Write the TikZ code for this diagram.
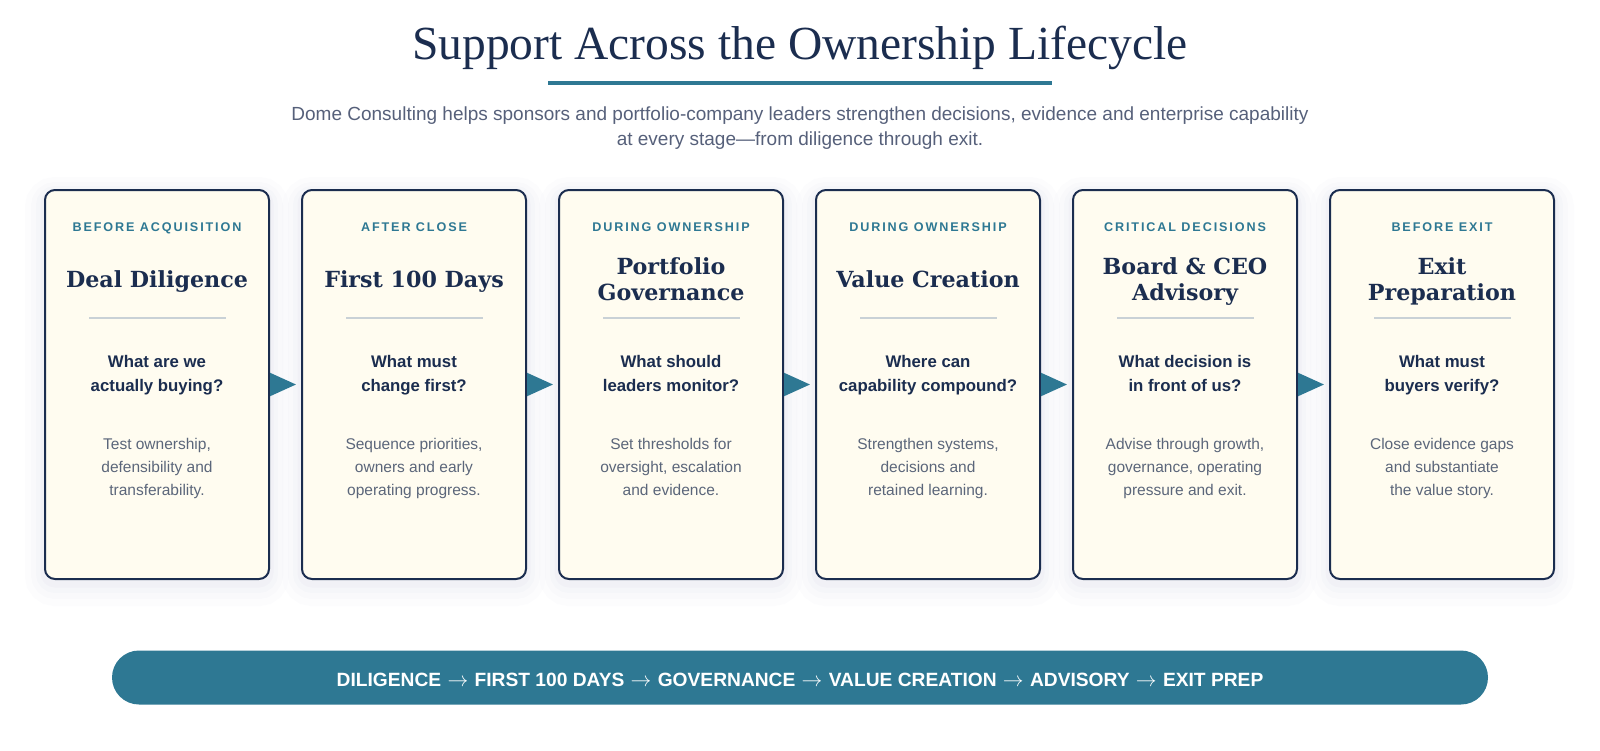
\documentclass[tikz,border=0pt]{standalone}
\usepackage{fontspec}
\setmainfont{Liberation Serif}
\setsansfont{Liberation Sans}
\newfontfamily\tagfont[LetterSpace=15]{Liberation Sans}
\newfontfamily\headfont{DejaVu Serif}
\usetikzlibrary{positioning,arrows.meta}

\definecolor{navy}{HTML}{1B2D4F}
\definecolor{teal}{HTML}{2E7893}
\definecolor{cream}{HTML}{FFFCF0}
\definecolor{rulegray}{HTML}{C9D1D6}
\definecolor{slate}{HTML}{5B667A}
\definecolor{subgray}{HTML}{56607A}
\definecolor{haze}{HTML}{5A5F9A}

\newcommand{\then}{\hspace{1pt}$\rightarrow$\hspace{1pt}}

\tikzset{
  card/.style={draw=navy, line width=2pt, fill=cream, rounded corners=10pt,
    minimum width=224pt, minimum height=389pt, inner sep=0pt,
    preaction={draw=haze, draw opacity=.014, line width=40pt, transform canvas={yshift=-7pt}},
    preaction={draw=haze, draw opacity=.018, line width=28pt, transform canvas={yshift=-6pt}},
    preaction={draw=haze, draw opacity=.022, line width=18pt, transform canvas={yshift=-5pt}},
    preaction={draw=haze, draw opacity=.028, line width=9pt, transform canvas={yshift=-4pt}}},
  tag/.style={text=teal, inner sep=0pt, anchor=base, font=\tagfont\bfseries\fontsize{12.6}{14}\selectfont},
  head/.style={text=navy, inner sep=0pt, anchor=north, align=center, font=\headfont\bfseries\fontsize{22.2}{26.7}\selectfont},
  ask/.style={text=navy, inner sep=0pt, anchor=north, align=center, font=\sffamily\bfseries\fontsize{16.8}{23.4}\selectfont},
  note/.style={text=slate, inner sep=0pt, anchor=north, align=center, font=\sffamily\fontsize{15.5}{23}\selectfont},
  divider/.style={fill=rulegray, inner sep=0pt, minimum width=137pt, minimum height=2.5pt},
  flow/.style={draw=teal, line width=2pt, shorten >=5pt,
    -{Triangle[length=26pt, width=23pt, fill=teal]}},
}

\begin{document}
\begin{tikzpicture}[x=1pt, y=-1pt]
  \useasboundingbox (0,0) rectangle (1600,750);

  % heading
  \node[text=navy, inner sep=0pt, anchor=base, font=\rmfamily\fontsize{47.5}{54}\selectfont] (title) at (800,59)
    {Support Across the Ownership Lifecycle};
  \node[fill=teal, inner sep=0pt, minimum width=504pt, minimum height=4pt] (uline) at (800,83) {};
  \node[text=subgray, inner sep=0pt, anchor=north, align=center, font=\sffamily\fontsize{19}{25.5}\selectfont] (intro) at (800,106.4)
    {Dome Consulting helps sponsors and portfolio-company leaders strengthen decisions, evidence and enterprise capability\\
     at every stage—from diligence through exit.};

  % stage cards
  \begin{scope}[every node/.style={card}]
    \node (c1) at (157,384.5)  {};
    \node (c2) at (414,384.5)  {};
    \node (c3) at (671,384.5)  {};
    \node (c4) at (928,384.5)  {};
    \node (c5) at (1185,384.5) {};
    \node (c6) at (1442,384.5) {};
  \end{scope}

  % arrows between the cards
  \path (c1) edge[flow] (c2);
  \path (c2) edge[flow] (c3);
  \path (c3) edge[flow] (c4);
  \path (c4) edge[flow] (c5);
  \path (c5) edge[flow] (c6);

  % stage tags
  \node[tag] (t1) at (157,231.7)  {BEFORE ACQUISITION};
  \node[tag] (t2) at (414,231.7)  {AFTER CLOSE};
  \node[tag] (t3) at (671,231.7)  {DURING OWNERSHIP};
  \node[tag] (t4) at (928,231.7)  {DURING OWNERSHIP};
  \node[tag] (t5) at (1185,231.7) {CRITICAL DECISIONS};
  \node[tag] (t6) at (1442,231.7) {BEFORE EXIT};

  % stage names
  \node[head] (h1) at (157,270.1)  {Deal Diligence};
  \node[head] (h2) at (414,270.1)  {First 100 Days};
  \node[head] (h3) at (671,257.1)  {Portfolio\\Governance};
  \node[head] (h4) at (928,270.1)  {Value Creation};
  \node[head] (h5) at (1185,257.1) {Board \& CEO\\Advisory};
  \node[head] (h6) at (1442,257.1) {Exit\\Preparation};

  % dividers
  \node[divider] (r1) at (157,318)  {};
  \node[divider] (r2) at (414,318)  {};
  \node[divider] (r3) at (671,318)  {};
  \node[divider] (r4) at (928,318)  {};
  \node[divider] (r5) at (1185,318) {};
  \node[divider] (r6) at (1442,318) {};

  % questions
  \node[ask] (q1) at (157,355.3)  {What are we\\actually buying?};
  \node[ask] (q2) at (414,355.3)  {What must\\change first?};
  \node[ask] (q3) at (671,355.3)  {What should\\leaders monitor?};
  \node[ask] (q4) at (928,355.3)  {Where can\\capability compound?};
  \node[ask] (q5) at (1185,355.3) {What decision is\\in front of us?};
  \node[ask] (q6) at (1442,355.3) {What must\\buyers verify?};

  % descriptions
  \node[note] (d1) at (157,438.2)  {Test ownership,\\defensibility and\\transferability.};
  \node[note] (d2) at (414,438.2)  {Sequence priorities,\\owners and early\\operating progress.};
  \node[note] (d3) at (671,438.2)  {Set thresholds for\\oversight, escalation\\and evidence.};
  \node[note] (d4) at (928,438.2)  {Strengthen systems,\\decisions and\\retained learning.};
  \node[note] (d5) at (1185,438.2) {Advise through growth,\\governance, operating\\pressure and exit.};
  \node[note] (d6) at (1442,438.2) {Close evidence gaps\\and substantiate\\the value story.};

  % summary bar
  \node[fill=teal, rounded corners=27pt, minimum width=1376pt, minimum height=54pt,
        text height=17pt, text depth=0pt,
        text=white, font=\sffamily\bfseries\fontsize{19.2}{20}\selectfont] (path) at (800,677.5)
    {DILIGENCE \then{} FIRST 100 DAYS \then{} GOVERNANCE \then{} VALUE CREATION \then{} ADVISORY \then{} EXIT PREP};

\end{tikzpicture}
\end{document}
